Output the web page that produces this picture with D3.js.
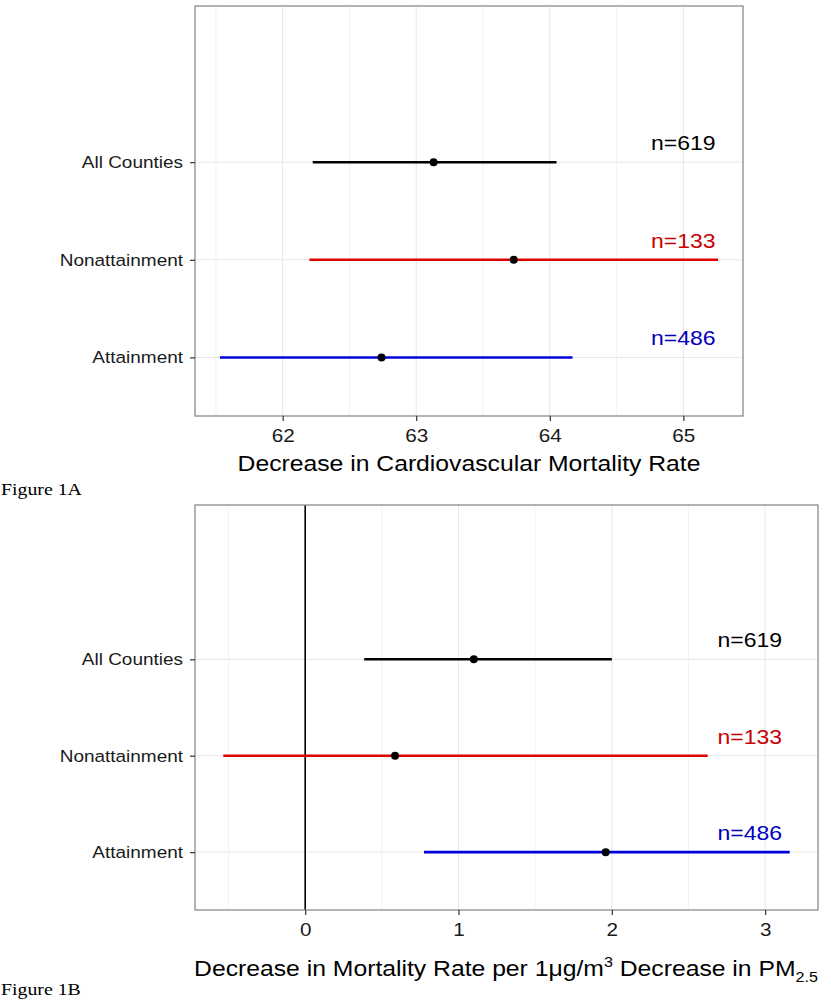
<!DOCTYPE html>
<html>
<head>
<meta charset="utf-8">
<script src="https://cdn.jsdelivr.net/npm/d3@7"></script>
<style>
  html, body { margin: 0; padding: 0; background: #ffffff; }
  svg { display: block; }
</style>
</head>
<body>
<script>
// ---------------- data ----------------
const categories = ["All Counties", "Nonattainment", "Attainment"];
const seriesColors = ["#000000", "#e00000", "#0000dd"];
const labelColors = ["#000000", "#cc0000", "#0000bb"];
const nLabels = ["n=619", "n=133", "n=486"];

// Figure 1A: decrease in cardiovascular mortality rate
const aLow  = [62.225, 62.20, 61.53];
const aEst  = [63.13, 63.73, 62.74];
const aHigh = [64.05, 65.26, 64.17];
const aTicks = [62, 63, 64, 65];
const aMinor = [61.5, 62.5, 63.5, 64.5];
const aLabelX = 65.0;

// Figure 1B: decrease per 1 ug/m3 decrease in PM2.5
const bLow  = [0.385, -0.534, 0.775];
const bEst  = [1.10, 0.586, 1.96];
const bHigh = [2.00, 2.625, 3.16];
const bTicks = [0, 1, 2, 3];
const bMinor = [-0.5, 0.5, 1.5, 2.5];
const bLabelX = 2.9;
const bRefLine = 0;

// ---------------- drawing ----------------
const W = 831, H = 1001;
const STRETCH = 1.15;   // source image is horizontally stretched
const SANS = "'Liberation Sans', Arial, Helvetica, sans-serif";
const SERIF = "'Liberation Serif', 'Times New Roman', Times, serif";

const svg = d3.select("body").append("svg")
  .attr("width", W).attr("height", H);
svg.append("rect").attr("width", W).attr("height", H).attr("fill", "#fff");

function expand(lo, hi) {
  const lmin = d3.min(lo), lmax = d3.max(hi);
  const pad = (lmax - lmin) * 0.05;
  return [lmin - pad, lmax + pad];
}

function panel(opt) {
  const { left, right, top, bottom, low, est, high, ticks, minor, labelX, refLine } = opt;
  const x = d3.scaleLinear().domain(expand(low, high)).range([left, right]);
  // categories at 3 (top), 2, 1 (bottom); extra empty space above
  const y = d3.scaleLinear().domain([0.4, 4.6]).range([bottom, top]);
  const yPos = i => y(3 - i);

  const g = svg.append("g");

  // minor vertical grid
  g.selectAll(".minor").data(minor).enter().append("line")
    .attr("x1", d => x(d)).attr("x2", d => x(d))
    .attr("y1", top).attr("y2", bottom)
    .attr("stroke", "#f3f3f3").attr("stroke-width", 1);
  // major vertical grid
  g.selectAll(".major").data(ticks).enter().append("line")
    .attr("x1", d => x(d)).attr("x2", d => x(d))
    .attr("y1", top).attr("y2", bottom)
    .attr("stroke", "#e6e6e6").attr("stroke-width", 1);
  // major horizontal grid
  g.selectAll(".hgrid").data(categories).enter().append("line")
    .attr("x1", left).attr("x2", right)
    .attr("y1", (d, i) => yPos(i)).attr("y2", (d, i) => yPos(i))
    .attr("stroke", "#e6e6e6").attr("stroke-width", 1);

  if (refLine !== undefined) {
    g.append("line")
      .attr("x1", x(refLine)).attr("x2", x(refLine))
      .attr("y1", top).attr("y2", bottom)
      .attr("stroke", "#000").attr("stroke-width", 1.6);
  }

  // error bars
  g.selectAll(".bar").data(categories).enter().append("line")
    .attr("x1", (d, i) => x(low[i])).attr("x2", (d, i) => x(high[i]))
    .attr("y1", (d, i) => yPos(i)).attr("y2", (d, i) => yPos(i))
    .attr("stroke", (d, i) => seriesColors[i]).attr("stroke-width", 2.6);
  // points
  g.selectAll(".pt").data(categories).enter().append("circle")
    .attr("cx", (d, i) => x(est[i])).attr("cy", (d, i) => yPos(i))
    .attr("r", 4).attr("fill", "#000");

  // n labels
  g.selectAll(".nlab").data(nLabels).enter().append("text")
    .attr("transform", (d, i) => `translate(${x(labelX)},${yPos(i) - 12}) scale(${STRETCH},1)`)
    .attr("text-anchor", "middle")
    .style("font-family", SANS)
    .attr("font-size", 20)
    .attr("fill", (d, i) => labelColors[i])
    .text(d => d);

  // panel border
  g.append("rect")
    .attr("x", left).attr("y", top)
    .attr("width", right - left).attr("height", bottom - top)
    .attr("fill", "none").attr("stroke", "#8a8a8a").attr("stroke-width", 1.3);

  // x axis
  const xAxis = g.append("g").attr("transform", `translate(0,${bottom})`)
    .call(d3.axisBottom(x).tickValues(ticks).tickSize(5).tickPadding(8).tickFormat(d3.format("d")));
  xAxis.select(".domain").remove();
  xAxis.selectAll(".tick line").attr("stroke", "#333").attr("stroke-width", 1.2);
  xAxis.selectAll(".tick text")
    .attr("font-size", 18).attr("fill", "#1a1a1a")
    .style("font-family", SANS)
    .attr("transform", `scale(${STRETCH},1)`);

  // y axis
  const yAxis = g.append("g").attr("transform", `translate(${left},0)`)
    .call(d3.axisLeft(y).tickValues([3, 2, 1]).tickSize(5).tickPadding(6)
      .tickFormat(v => categories[3 - v]));
  yAxis.select(".domain").remove();
  yAxis.selectAll(".tick line").attr("stroke", "#333").attr("stroke-width", 1.2);
  yAxis.selectAll(".tick text")
    .attr("font-size", 16.5).attr("fill", "#1a1a1a")
    .style("font-family", SANS)
    .attr("x", 0)
    .attr("transform", `translate(-12,0) scale(${STRETCH},1)`);

  return { x, y, g };
}

// ---- Figure 1A ----
const pA = panel({ left: 195, right: 743, top: 6, bottom: 416,
  low: aLow, est: aEst, high: aHigh, ticks: aTicks, minor: aMinor, labelX: aLabelX });

svg.append("text")
  .attr("transform", `translate(${(195 + 743) / 2},471) scale(${STRETCH},1)`)
  .attr("text-anchor", "middle").attr("font-size", 21.5).attr("fill", "#000")
  .style("font-family", SANS)
  .text("Decrease in Cardiovascular Mortality Rate");

svg.append("text")
  .attr("transform", "translate(1,495) scale(1.2,1)")
  .style("font-family", SERIF)
  .attr("font-size", 16.5).attr("fill", "#000")
  .text("Figure 1A");

// ---- Figure 1B ----
const pB = panel({ left: 195, right: 818, top: 505, bottom: 910,
  low: bLow, est: bEst, high: bHigh, ticks: bTicks, minor: bMinor, labelX: bLabelX, refLine: bRefLine });

const tB = svg.append("text")
  .attr("transform", `translate(${(189 + 823) / 2},976) scale(${STRETCH},1)`)
  .attr("text-anchor", "middle").attr("font-size", 21.5).attr("fill", "#000")
  .style("font-family", SANS);
tB.append("tspan").text("Decrease in Mortality Rate per 1\u03BCg/m");
tB.append("tspan").attr("dy", -9).attr("font-size", 14).text("3");
tB.append("tspan").attr("dy", 9).text(" Decrease in PM");
tB.append("tspan").attr("dy", 6).attr("font-size", 14).text("2.5");

svg.append("text")
  .attr("transform", "translate(1,995) scale(1.2,1)")
  .style("font-family", SERIF)
  .attr("font-size", 16.5).attr("fill", "#000")
  .text("Figure 1B");
</script>
</body>
</html>
